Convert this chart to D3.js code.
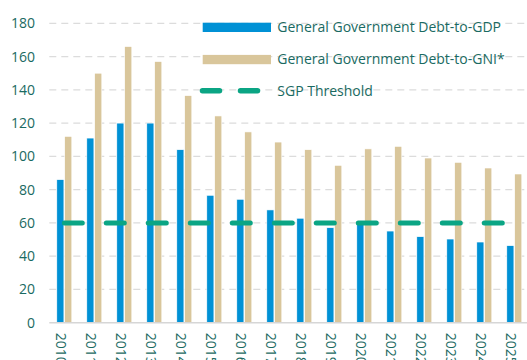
<!DOCTYPE html>
<html>
<head>
<meta charset="utf-8">
<script src="https://cdn.jsdelivr.net/npm/d3@7"></script>
<style>
  html, body { margin: 0; padding: 0; background: #fff; }
  svg { display: block; font-family: "Open Sans", sans-serif; }
</style>
</head>
<body>
<svg id="chart" width="527" height="360"></svg>
<script>
// Irish general government debt ratios (% of GDP / % of GNI*)
const years = ["2010","2011","2012","2013","2014","2015","2016","2017",
               "2018","2019","2020","2021","2022","2023","2024","2025"];
const debtToGDP  = [86, 111, 120, 120, 104, 76.6, 74.2, 67.8, 62.8, 57.1, 59, 55.1, 51.7, 50.3, 48.5, 46.3];
const debtToGNI  = [112, 150, 166, 157, 136.5, 124.3, 114.7, 108.6, 104, 94.6, 104.5, 106, 99, 96.4, 93, 89.4];
const sgpThreshold = years.map(() => 60);
const yTicks = [0, 20, 40, 60, 80, 100, 120, 140, 160, 180];
const seriesNames = ["General Government Debt-to-GDP", "General Government Debt-to-GNI*", "SGP Threshold"];

const colors = { gdp: "#0091D5", gni: "#D9C69B", sgp: "#0BA584", text: "#1A6A62", grid: "#DCDCDC" };

const svg = d3.select("#chart");
const left = 49.3, step = 30;
const x0 = d3.scaleBand().domain(years)
  .range([left, left + step * years.length])
  .paddingInner(0.5).paddingOuter(0.25);
const x1 = d3.scaleBand().domain(["gdp", "gni"])
  .range([0, x0.bandwidth()]).paddingInner(0.1);
const y = d3.scaleLinear().domain([0, 180]).range([322.7, 23.3]);

// horizontal dashed gridlines
svg.append("g").selectAll("line")
  .data(yTicks.filter(d => d > 0))
  .join("line")
  .attr("x1", left).attr("x2", 527)
  .attr("y1", d => y(d)).attr("y2", d => y(d))
  .attr("stroke", colors.grid).attr("stroke-width", 1.3)
  .attr("stroke-dasharray", "7 5");

// y-axis tick labels
const yAxis = d3.axisLeft(y).tickValues(yTicks).tickSize(0).tickPadding(0);
const ya = svg.append("g").attr("transform", "translate(35,0)").call(yAxis);
ya.select(".domain").remove();
ya.selectAll("text")
  .attr("fill", colors.text).attr("font-size", 14)
  .attr("font-family", "'Open Sans', sans-serif");

// bars
const rows = years.map((yr, i) => ({ year: yr, gdp: debtToGDP[i], gni: debtToGNI[i] }));
const groups = svg.append("g").selectAll("g")
  .data(rows).join("g")
  .attr("transform", d => `translate(${x0(d.year)},0)`);
groups.selectAll("rect")
  .data(d => ["gdp", "gni"].map(k => ({ key: k, value: d[k] })))
  .join("rect")
  .attr("x", d => x1(d.key))
  .attr("width", x1.bandwidth())
  .attr("y", d => y(d.value))
  .attr("height", d => y(0) - y(d.value))
  .attr("fill", d => colors[d.key])
  .attr("stroke", "#fff").attr("stroke-width", 0.6);

// baseline
svg.append("line")
  .attr("x1", left).attr("x2", 527)
  .attr("y1", y(0)).attr("y2", y(0))
  .attr("stroke", "#D6D6D6").attr("stroke-width", 1.5);

// SGP threshold line
const line = d3.line()
  .x((d, i) => x0(years[i]) + x0.bandwidth() / 2)
  .y(d => y(d));
svg.append("path")
  .datum(sgpThreshold)
  .attr("d", line)
  .attr("fill", "none")
  .attr("stroke", colors.sgp).attr("stroke-width", 5)
  .attr("stroke-linecap", "round")
  .attr("stroke-dasharray", "18 24");

// x-axis labels, rotated
const xAxis = d3.axisBottom(x0).tickSize(0).tickPadding(0);
const xa = svg.append("g").attr("transform", `translate(-3,${y(0) + 10})`).call(xAxis);
xa.select(".domain").remove();
xa.selectAll("text")
  .attr("fill", colors.text).attr("font-size", 14)
  .attr("font-family", "'Open Sans', sans-serif")
  .attr("transform", "rotate(90)")
  .attr("text-anchor", "start")
  .attr("dy", "0.35em")
  .attr("x", 0).attr("y", 0);

// legend
const legend = svg.append("g");
const legY = [27.3, 59.5, 90.7];
legend.append("rect").attr("x", 202.7).attr("y", legY[0] - 4.6)
  .attr("width", 68.3).attr("height", 9.3).attr("fill", colors.gdp);
legend.append("rect").attr("x", 202.7).attr("y", legY[1] - 4.6)
  .attr("width", 68.3).attr("height", 9.3).attr("fill", colors.gni);
legend.append("line").attr("x1", 202.5).attr("x2", 271)
  .attr("y1", legY[2]).attr("y2", legY[2])
  .attr("stroke", colors.sgp).attr("stroke-width", 5.5)
  .attr("stroke-linecap", "round").attr("stroke-dasharray", "17 21");
legend.selectAll("text")
  .data(seriesNames).join("text")
  .attr("x", 277.3).attr("y", (d, i) => legY[i])
  .attr("dy", "0.35em")
  .attr("fill", colors.text).attr("font-size", 14)
  .text(d => d);
</script>
</body>
</html>
